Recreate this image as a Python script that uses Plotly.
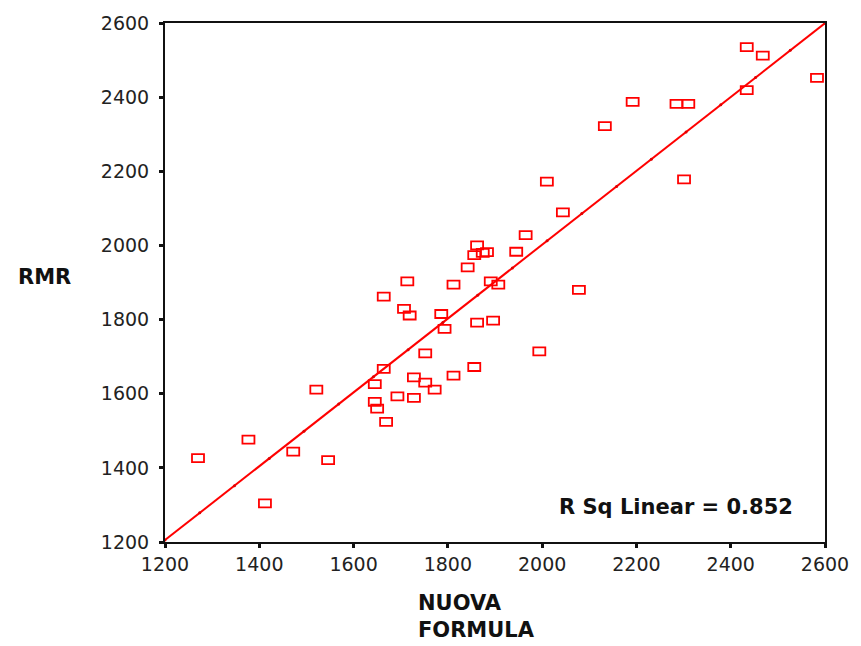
import numpy as np
import plotly.graph_objects as go

# Observed values: predicted RMR ("nuova formula") vs measured RMR
nuova_formula = [
    1270, 1377, 1412, 1472, 1521, 1546, 1645, 1645, 1650, 1669,
    1664, 1664, 1693, 1728, 1728, 1752, 1772, 1752, 1714, 1707,
    1719, 1786, 1793, 1965, 1945, 1862, 1856, 1874, 1883, 1842,
    1812, 1891, 1907, 2078, 1862, 1896, 1994, 1856, 1812, 2434,
    2468, 2583, 2434, 2285, 2310, 2192, 2133, 2301, 2010, 2044,
]
rmr = [
    1426, 1476, 1304, 1444, 1611, 1421, 1626, 1578, 1560, 1524,
    1667, 1862, 1593, 1589, 1644, 1630, 1611, 1709, 1903, 1829,
    1811, 1815, 1775, 2028, 1983, 2000, 1974, 1980, 1982, 1941,
    1894, 1903, 1894, 1880, 1792, 1797, 1714, 1672, 1649, 2535,
    2512, 2452, 2419, 2382, 2382, 2387, 2322, 2178, 2172, 2089,
]

# Linear fit line (drawn as a polyline with 20 vertices across the axis range)
fit_intercept = 10.0
fit_slope = 0.996
r_sq = 0.852

x_range = [1200, 2600]
y_range = [1200, 2600]
tick_vals = [1200, 1400, 1600, 1800, 2000, 2200, 2400, 2600]

red = "#ff0000"
fit_x = np.linspace(x_range[0], x_range[1], 20)
fit_y = fit_intercept + fit_slope * fit_x

fig = go.Figure()
fig.add_trace(go.Scatter(
    x=fit_x, y=fit_y, mode="lines+markers",
    line=dict(color=red, width=2),
    marker=dict(color="#e00000", size=3),
    hoverinfo="skip", showlegend=False, cliponaxis=True,
))
# Data points: hover layer plus open rectangular markers anchored at each (x, y)
fig.add_trace(go.Scatter(
    x=nuova_formula, y=rmr, mode="markers",
    marker=dict(size=10, color="rgba(0,0,0,0)"),
    showlegend=False,
))
for xv, yv in zip(nuova_formula, rmr):
    fig.add_shape(
        type="rect", xref="x", yref="y",
        xsizemode="pixel", ysizemode="pixel",
        xanchor=xv, yanchor=yv,
        x0=-6, x1=6, y0=-4, y1=4,
        line=dict(color=red, width=1.8), fillcolor="rgba(0,0,0,0)",
    )

tick_font = dict(family="DejaVu Sans, Liberation Sans, sans-serif", size=19, color="#222")
axis_common = dict(
    showgrid=False, zeroline=False,
    showline=True, linecolor="#111", linewidth=2, mirror=True,
    ticks="outside", ticklen=4, tickwidth=3, tickcolor="#111",
    tickvals=tick_vals, tickfont=tick_font,
)
fig.update_xaxes(range=x_range, **axis_common)
fig.update_yaxes(range=y_range, ticklabelstandoff=6, **axis_common)

bold = dict(family="DejaVu Sans, Liberation Sans, sans-serif", size=21, color="#111")
fig.update_layout(
    width=861, height=646,
    margin=dict(l=165, r=31, t=19, b=104),
    paper_bgcolor="white", plot_bgcolor="white",
    annotations=[
        dict(text="<b>RMR</b>", xref="paper", yref="paper", x=-0.14, y=0.5105,
             xanchor="right", yanchor="middle", showarrow=False, font=bold),
        dict(text="<b>NUOVA<br>FORMULA</b>", xref="paper", yref="paper", x=0.3805, y=-0.1434,
             xanchor="left", yanchor="middle", align="left", showarrow=False, font=bold),
        dict(text=f"<b>R Sq Linear = {r_sq:.3f}</b>", xref="paper", yref="paper", x=0.955, y=0.0669,
             xanchor="right", yanchor="middle", showarrow=False, font=dict(bold, size=21)),
    ],
)

fig.write_html("out.html")
